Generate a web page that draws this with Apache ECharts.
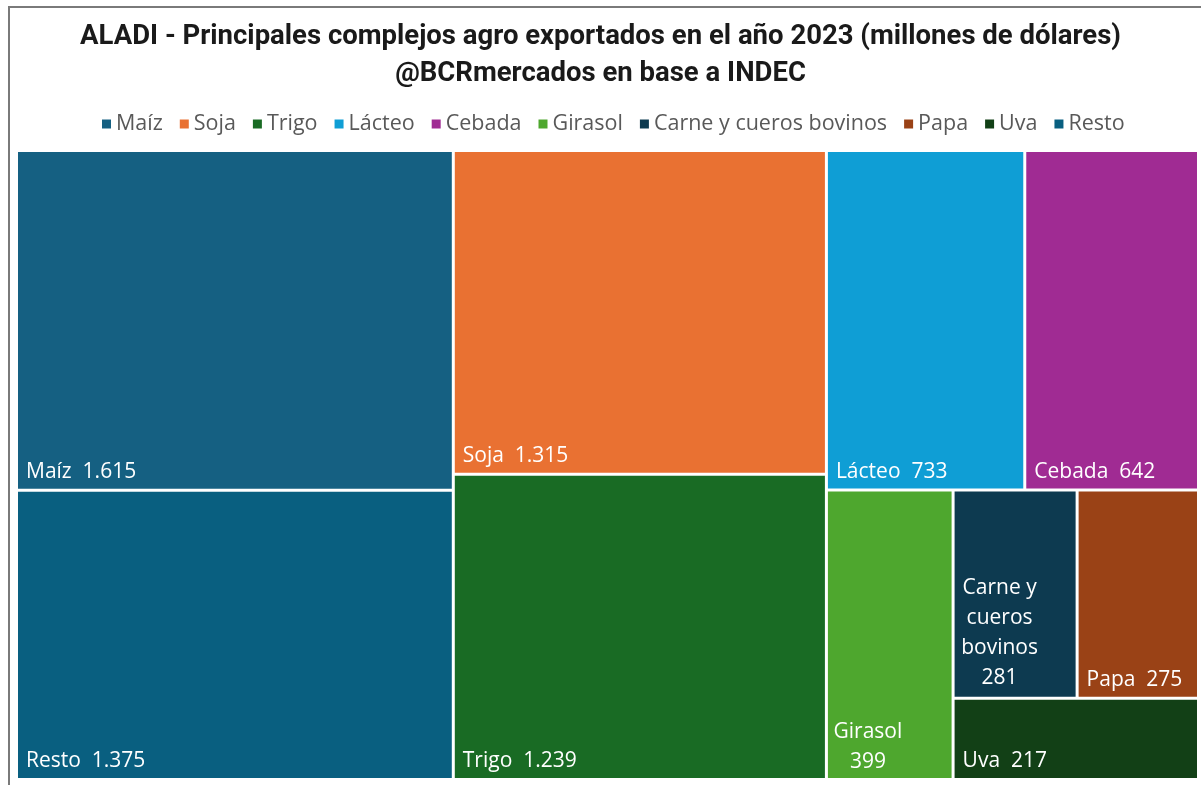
<!DOCTYPE html>
<html>
<head>
<meta charset="utf-8">
<script src="https://cdn.jsdelivr.net/npm/echarts@6/dist/echarts.min.js"></script>
<style>
html,body{margin:0;padding:0;background:#fff;width:1201px;height:785px;overflow:hidden;}
#frame{position:absolute;left:8px;top:6px;width:1300px;height:1000px;border-left:2px solid #7a7a7a;border-top:2px solid #7a7a7a;}
#chart{position:absolute;left:0;top:0;width:1201px;height:785px;}
</style>
</head>
<body>
<div id="frame"></div>
<div id="chart"></div>
<script>
// ---- data ----
const categories = ['Maíz','Soja','Trigo','Lácteo','Cebada','Girasol','Carne y cueros bovinos','Papa','Uva','Resto'];
const values = [1615,1315,1239,733,642,399,281,275,217,1375];
const colors = ['#156082','#E97132','#196B24','#0F9ED5','#A02B93','#4EA72E','#0D3A50','#9A4216','#124016','#095F80'];
// wrapped label lines for narrow cells
const wrappedNames = {'Girasol':['Girasol'], 'Carne y cueros bovinos':['Carne y','cueros','bovinos']};
// grouping of the treemap (indices into categories)
const grouping = [[0,9],[1,2],[[3,4],[5,[[6,7],8]]]];

const titleText = 'ALADI - Principales complejos agro exportados en el año 2023 (millones de dólares)\n@BCRmercados en base a INDEC';

function fmt(v){ return String(v).replace(/\B(?=(\d{3})+(?!\d))/g,'.'); }

const wrapOffsets = {'Girasol':[39,5], 'Carne y cueros bovinos':[44,2]};

let gid = 0;
function build(node){
  if (typeof node === 'number') {
    const name = categories[node];
    const item = { name: name, value: values[node], itemStyle: { color: colors[node] } };
    if (wrappedNames[name]) {
      const lines = wrappedNames[name].concat([fmt(values[node])]);
      item.label = {
        formatter: lines.join('\n'),
        align: 'center',
        lineHeight: 30,
        offset: wrapOffsets[name]
      };
    }
    return item;
  }
  const children = node.map(build);
  const sum = children.reduce((a,c)=>a+c.value,0);
  return { name: 'g' + (gid++), value: sum, children: children,
           itemStyle: { color: '#fff', borderColor: '#fff', borderWidth: 0, gapWidth: 3 } };
}
const treeData = grouping.map(build);

const chart = echarts.init(document.getElementById('chart'), null, {renderer:'canvas'});
chart.setOption({
  animation: false,
  title: {
    text: titleText,
    left: 'center',
    top: 14,
    textStyle: {
      fontFamily: 'Roboto, "DejaVu Sans Condensed", sans-serif',
      fontSize: 27.5,
      fontWeight: 'bold',
      color: '#1a1a1a',
      lineHeight: 37,
      align: 'center'
    }
  },
  legend: {
    top: 108,
    left: 97,
    icon: 'rect',
    itemWidth: 9,
    itemHeight: 9,
    itemGap: 17,
    selectedMode: false,
    textStyle: { fontFamily: '"Open Sans", "Noto Sans", sans-serif', fontSize: 21.5, color: '#595959' },
    data: categories
  },
  series: [
    {
      type: 'pie',
      silent: true,
      center: [-3000, -3000],
      radius: 1,
      label: { show: false },
      labelLine: { show: false },
      data: categories.map((c,i)=>({ name: c, value: values[i], itemStyle: { color: colors[i] } }))
    },
    {
      type: 'treemap',
      left: 18,
      top: 152,
      right: 4,
      bottom: 7,
      roam: false,
      nodeClick: false,
      sort: false,
      squareRatio: 1,
      visibleMin: 0,
      breadcrumb: { show: false },
      itemStyle: { borderWidth: 0, gapWidth: 3, borderColor: '#fff' },
      label: {
        show: true,
        position: 'insideBottomLeft',
        distance: 1,
        offset: [2, 0],
        fontFamily: '"Open Sans", "Noto Sans", sans-serif',
        fontSize: 21,
        color: '#fff',
        formatter: function(p){ return p.name + '  ' + fmt(p.value); }
      },
      upperLabel: { show: false },
      data: treeData
    }
  ]
});
</script>
</body>
</html>
